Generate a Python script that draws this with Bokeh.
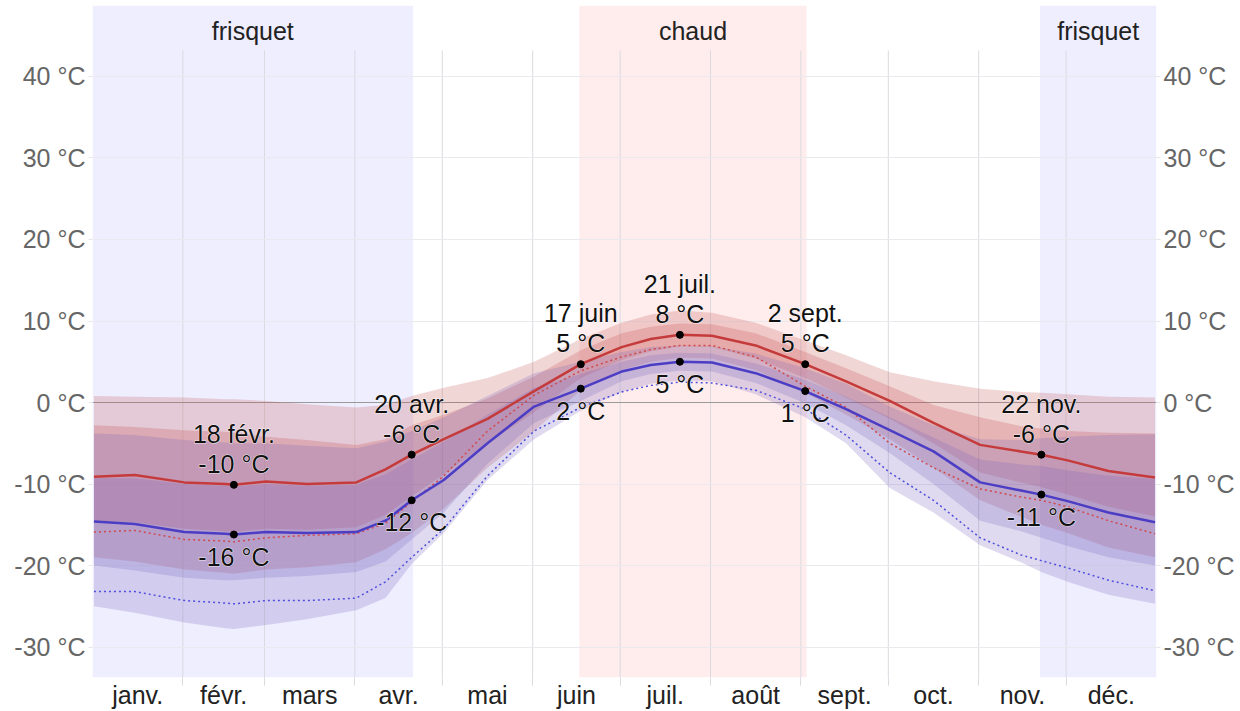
import numpy as np
from bokeh.plotting import figure
from bokeh.models import FixedTicker, LinearAxis, Range1d, Span, ColumnDataSource
from bokeh.core.properties import value
from bokeh.embed import file_html
from bokeh.resources import INLINE

# ---------------- data ----------------
days = [0, 14, 31, 45, 48, 59, 73, 90, 100, 109, 120, 135, 151, 167, 181, 191, 201,
        212, 227, 244, 258, 273, 288, 304, 318, 325, 334, 348, 364]

hi_p90 = [0.8, 0.7, 0.6, 0.4, 0.4, 0.2, -0.2, -0.6, -0.3, 0.8, 1.8, 3.0, 5.0, 7.8, 9.8, 10.8, 11.3,
          11.0, 9.8, 7.6, 5.8, 3.7, 2.6, 1.7, 1.3, 1.2, 1.0, 0.7, 0.6]
hi_p75 = [-2.8, -3.0, -3.4, -3.6, -3.7, -4.2, -4.6, -5.2, -4.5, -2.8, -1.5, 0.5, 3.2, 6.4, 8.5, 9.3, 9.7,
          9.6, 8.5, 6.2, 4.2, 2.0, -0.3, -1.8, -2.9, -3.2, -3.5, -3.7, -3.8]
hi_mean = [-9.1, -8.9, -9.8, -10.0, -10.1, -9.7, -10.0, -9.8, -8.2, -6.4, -4.5, -2.0, 1.4, 4.7, 6.8, 7.8, 8.3,
           8.2, 7.0, 4.7, 2.6, 0.2, -2.5, -5.2, -6.0, -6.4, -7.1, -8.4, -9.2]
hi_p25 = [-14.5, -14.7, -15.5, -15.8, -15.9, -15.5, -15.6, -15.3, -13.8, -11.5, -8.8, -5.0, -1.2, 3.0, 5.2, 6.3, 6.9,
          6.8, 5.4, 3.0, 0.6, -2.0, -5.0, -8.6, -9.8, -10.4, -11.3, -12.8, -14.0]
hi_p10 = [-19.0, -19.5, -20.5, -20.9, -21.0, -20.5, -20.2, -19.6, -18.0, -16.0, -13.0, -8.0, -3.5, 1.5, 4.0, 5.0, 5.5,
          5.4, 4.0, 1.2, -1.5, -4.5, -8.0, -12.0, -14.0, -15.0, -16.0, -17.8, -19.0]

lo_p90 = [-3.8, -4.0, -4.6, -4.9, -5.0, -5.0, -5.3, -5.6, -4.8, -3.5, -1.8, 0.8, 3.6, 5.0, 6.2, 6.8, 7.0,
          6.9, 6.0, 4.2, 2.3, -0.5, -2.8, -4.5, -4.6, -4.4, -4.2, -4.0, -3.9]
lo_p75 = [-9.3, -9.3, -10.0, -10.2, -10.3, -10.0, -10.2, -10.1, -8.8, -7.0, -4.8, -1.5, 1.8, 3.5, 5.0, 5.8, 6.1,
          6.0, 4.8, 2.8, 0.7, -1.8, -4.3, -7.0, -7.6, -7.8, -8.3, -9.0, -9.4]
lo_mean = [-14.6, -14.9, -15.9, -16.1, -16.2, -15.9, -16.0, -15.9, -14.5, -12.0, -9.5, -5.0, -0.5, 1.7, 3.8, 4.6, 5.0,
           4.9, 3.6, 1.4, -0.8, -3.4, -6.0, -9.8, -10.8, -11.3, -12.1, -13.5, -14.7]
lo_p25 = [-20.0, -20.6, -21.5, -21.8, -21.8, -21.5, -21.3, -20.8, -19.5, -16.8, -13.5, -7.5, -2.5, 0.2, 2.6, 3.5, 3.9,
          3.8, 2.4, -0.1, -2.8, -6.2, -10.0, -14.5, -15.8, -16.6, -17.6, -19.0, -20.0]
lo_p10 = [-25.0, -25.8, -27.0, -27.7, -27.8, -27.3, -26.6, -25.5, -24.0, -19.8, -16.0, -9.5, -4.5, -1.0, 1.3, 2.3, 2.7,
          2.6, 1.0, -1.8, -5.0, -10.5, -13.5, -17.5, -19.6, -20.8, -22.0, -23.6, -24.7]

feels_hi = [-15.9, -15.7, -16.8, -17.0, -17.1, -16.6, -16.3, -16.1, -14.8, -12.2, -9.0, -3.5, 0.9, 3.9, 5.6, 6.5, 7.0,
            7.0, 5.6, 2.0, -0.6, -5.0, -8.0, -10.6, -11.6, -12.0, -12.8, -14.5, -16.1]
feels_lo = [-23.2, -23.2, -24.3, -24.6, -24.7, -24.3, -24.3, -24.0, -22.0, -19.0, -15.5, -9.0, -3.5, -0.6, 1.3, 2.1, 2.5,
            2.4, 1.5, -0.8, -4.0, -8.6, -12.0, -16.6, -18.7, -19.4, -20.3, -21.8, -23.1]

month_names = ["janv.", "févr.", "mars", "avr.", "mai", "juin", "juil.", "août", "sept.", "oct.", "nov.", "déc."]
month_starts = [0, 31, 59, 90, 120, 151, 181, 212, 243, 273, 304, 334, 365]
y_ticks = [-30, -20, -10, 0, 10, 20, 30, 40]

season_names = ["frisquet", "chaud", "frisquet"]
season_start = [0, 167, 325]
season_end = [110, 245, 365]
season_colors = ["#EEEEFF", "#FFEDED", "#EEEEFF"]

ann_days = [48, 109, 167, 201, 244, 325]
ann_dates = ["18 févr.", "20 avr.", "17 juin", "21 juil.", "2 sept.", "22 nov."]

# ---------------- styles ----------------
FONT = "Liberation Sans"
FS = "25px"
HI_BAND = "#C85A5A"
LO_BAND = "#7864BE"
HI_LINE = "#C53B3B"
LO_LINE = "#4B3DC4"
GRID_TOP = 43.2
Y0, Y1 = -33.74, 48.71

x = np.array(days) + 0.5

p = figure(width=1240, height=711, output_backend="svg", toolbar_location=None,
           x_range=Range1d(0, 365), y_range=Range1d(Y0, Y1),
           min_border_left=92, min_border_right=84, min_border_top=5, min_border_bottom=34,
           y_axis_location=None, x_axis_location=None)
p.outline_line_color = None
p.background_fill_color = "white"
p.border_fill_color = "white"

# season background bands
p.quad(left=season_start, right=season_end, bottom=Y0, top=Y1,
       fill_color=season_colors, line_color=None, level="image")

# grids
p.xgrid.visible = False
p.ygrid.ticker = FixedTicker(ticks=y_ticks)
p.ygrid.grid_line_color = "#e9e9ee"
p.ygrid.grid_line_width = 1
vg = p.segment(x0=month_starts[1:-1], y0=GRID_TOP, x1=month_starts[1:-1], y1=Y0,
               line_color="#dadae0", line_width=1)
vg.level = "underlay"
p.add_layout(Span(location=0, dimension="width", line_color="#9a9a9a", line_width=1, level="underlay"))

# axes
def make_y_axis():
    ax = LinearAxis(ticker=FixedTicker(ticks=y_ticks))
    ax.major_label_overrides = {t: f"{t} °C" for t in y_ticks}
    ax.axis_line_color = None
    ax.major_tick_line_color = "#e6e6ea"
    ax.major_tick_out = 4
    ax.major_tick_in = 0
    ax.minor_tick_line_color = None
    ax.major_label_standoff = 3
    ax.major_label_text_font = FONT
    ax.major_label_text_font_size = FS
    ax.major_label_text_color = "#666666"
    return ax

p.add_layout(make_y_axis(), "left")
p.add_layout(make_y_axis(), "right")

mids = [(month_starts[i] + month_starts[i + 1]) / 2 for i in range(12)]
xax = LinearAxis(ticker=FixedTicker(ticks=mids, minor_ticks=month_starts[1:-1]))
xax.major_label_overrides = {m: n for m, n in zip(mids, month_names)}
xax.axis_line_color = None
xax.major_tick_line_color = None
xax.major_tick_out = 0
xax.minor_tick_line_color = "#dadae0"
xax.minor_tick_out = 8
xax.minor_tick_in = 0
xax.major_label_standoff = -5
xax.major_label_text_font = FONT
xax.major_label_text_font_size = FS
xax.major_label_text_color = "#222222"
p.add_layout(xax, "below")

# percentile bands
p.varea(x=x, y1=hi_p10, y2=hi_p90, fill_color=HI_BAND, fill_alpha=0.25)
p.varea(x=x, y1=hi_p25, y2=hi_p75, fill_color=HI_BAND, fill_alpha=0.27)
p.varea(x=x, y1=lo_p10, y2=lo_p90, fill_color=LO_BAND, fill_alpha=0.24)
p.varea(x=x, y1=lo_p25, y2=lo_p75, fill_color=LO_BAND, fill_alpha=0.24)

# feels-like (dotted)
p.line(x, feels_hi, line_color="#D04848", line_width=1.5, line_dash="2 3")
p.line(x, feels_lo, line_color="#4F4FDD", line_width=1.5, line_dash="2 3")

# means
p.line(x, hi_mean, line_color=HI_LINE, line_width=2.5)
p.line(x, lo_mean, line_color=LO_LINE, line_width=2.5)

# annotations
idx = [days.index(d) for d in ann_days]
ax_ = [days[i] + 0.5 for i in idx]
hv = [hi_mean[i] for i in idx]
lv = [lo_mean[i] for i in idx]
src = ColumnDataSource(dict(
    x=ax_, hv=hv, lv=lv, date=ann_dates,
    hl=[f"{round(v):d} °C" for v in hv],
    ll=[f"{round(v):d} °C" for v in lv],
))
p.scatter("x", "hv", source=src, size=7, color="black")
p.scatter("x", "lv", source=src, size=7, color="black")

base = dict(source=src, text_align="center", text_baseline="middle",
            text_font=value(FONT), text_font_size=FS)
for col, yc, off in [("date", "hv", -51), ("hl", "hv", -21), ("ll", "lv", 22)]:
    p.text("x", yc, text=col, y_offset=off, text_color="white", text_alpha=0.75,
           text_outline_color="white", **base)
    p.text("x", yc, text=col, y_offset=off, text_color="#111111", **base)

# season labels
smid = [(a + b) / 2 for a, b in zip(season_start, season_end)]
p.text(x=smid, y=[Y1] * 3, text=season_names, y_offset=25, text_align="center",
       text_baseline="middle", text_font=value(FONT), text_font_size=FS, text_color="#222222")

open("out.html", "w").write(file_html(p, INLINE))
